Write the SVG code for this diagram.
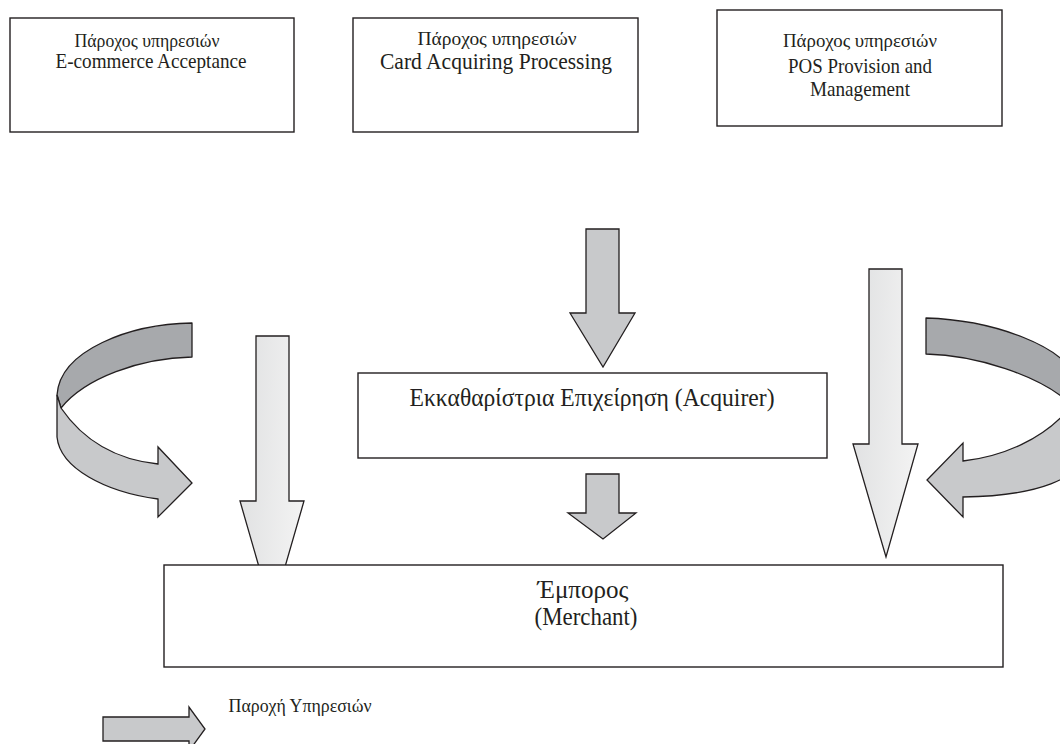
<svg xmlns="http://www.w3.org/2000/svg" width="1060" height="744" viewBox="0 0 1060 744">
<style>
.box{fill:#ffffff;stroke:#231f20;stroke-width:1.4}
.t{font-family:"Liberation Serif","Times New Roman",serif;fill:#231f20;text-anchor:middle}
.dark{fill:#a7a9ac;stroke:#231f20;stroke-width:1.3;stroke-linejoin:round}
.mid{fill:#c8c9cb;stroke:#231f20;stroke-width:1.3;stroke-linejoin:miter}
.light{fill:url(#lg);stroke:#231f20;stroke-width:1.3;stroke-linejoin:miter}
</style>
<defs>
<linearGradient id="lg" x1="0" y1="0" x2="1" y2="0.15">
<stop offset="0" stop-color="#dfe0e1"/>
<stop offset="1" stop-color="#f2f2f2"/>
</linearGradient>
</defs>
<rect width="1060" height="744" fill="#ffffff"/>

<g id="connectors">
  <!-- left curved arrow -->
  <g id="curve-left">
    <path class="dark" d="M192,323 L192,357 C140,358 85,378 61,408 L57,395 C60,350 130,324 192,323 Z"/>
    <path class="mid" d="M57,395 L61,408 C85,443 120,460 158,464 L158,447 L192,483 L158,517 L158,499 C105,492 60,468 57,437 Z"/>
  </g>
  <!-- right curved arrow -->
  <g id="curve-right">
    <path class="dark" d="M926,318 L926,354 C975,355 1040,375 1072,405 L1078,385 C1070,345 990,320 926,318 Z"/>
    <path class="mid" d="M1078,385 L1072,405 C1045,440 1000,457 963,461 L963,443 L927,480 L963,517 L963,497 C1030,496 1088,482 1090,440 Z"/>
  </g>
  <!-- long straight arrows -->
  <path id="arrow-left" class="light" d="M256,336 L289,336 L289,501 L304,501 L272,612 L240,501 L256,501 Z"/>
  <path id="arrow-right" class="light" d="M869,269 L902,269 L902,444 L918,444 L886,557 L853,444 L869,444 Z"/>
  <!-- middle arrows -->
  <path id="arrow-top" class="mid" d="M586,229 L619,229 L619,313 L635,313 L603,367 L570,313 L586,313 Z"/>
  <path id="arrow-bottom" class="mid" d="M586,474 L619,474 L619,513 L636,513 L603,539 L568,513 L586,513 Z"/>
  <!-- legend arrow -->
  <path id="arrow-legend" class="mid" d="M103,717 L189,717 L189,707 L205,729 L189,751 L189,741 L103,741 Z"/>
</g>

<g id="node-ecommerce">
  <rect class="box" x="10" y="18" width="284" height="114"/>
  <text class="t" x="147" y="47" font-size="18" textLength="145" lengthAdjust="spacingAndGlyphs">Πάροχος υπηρεσιών</text>
  <text class="t" x="151" y="68" font-size="21" textLength="191" lengthAdjust="spacingAndGlyphs">E-commerce Acceptance</text>
</g>

<g id="node-card">
  <rect class="box" x="353" y="18" width="285" height="114"/>
  <text class="t" x="497" y="45" font-size="19" textLength="159" lengthAdjust="spacingAndGlyphs">Πάροχος υπηρεσιών</text>
  <text class="t" x="496" y="69" font-size="23" textLength="232" lengthAdjust="spacingAndGlyphs">Card Acquiring Processing</text>
</g>

<g id="node-pos">
  <rect class="box" x="717" y="10" width="285" height="116"/>
  <text class="t" x="860" y="47" font-size="19" textLength="154" lengthAdjust="spacingAndGlyphs">Πάροχος υπηρεσιών</text>
  <text class="t" x="860" y="73" font-size="21" textLength="144" lengthAdjust="spacingAndGlyphs">POS Provision and</text>
  <text class="t" x="860" y="96" font-size="21" textLength="100" lengthAdjust="spacingAndGlyphs">Management</text>
</g>

<g id="node-acquirer">
  <rect class="box" x="358" y="373" width="469" height="85"/>
  <text class="t" x="592" y="406" font-size="25" textLength="365" lengthAdjust="spacingAndGlyphs">Εκκαθαρίστρια Επιχείρηση (Acquirer)</text>
</g>

<g id="node-merchant">
  <rect class="box" x="164" y="565" width="839" height="102"/>
  <text class="t" x="583" y="598" font-size="25" textLength="91" lengthAdjust="spacingAndGlyphs">Έμπορος</text>
  <text class="t" x="586" y="625" font-size="25" textLength="103" lengthAdjust="spacingAndGlyphs">(Merchant)</text>
</g>

<g id="legend">
  <text class="t" x="300" y="712" font-size="18" textLength="143" lengthAdjust="spacingAndGlyphs">Παροχή Υπηρεσιών</text>
</g>
</svg>
